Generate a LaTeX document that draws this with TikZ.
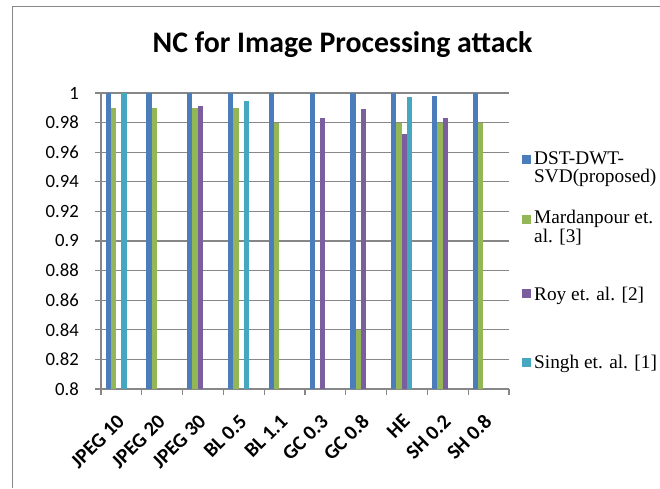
\documentclass[tikz,border=0pt]{standalone}
\usepackage{fontspec}
\setmainfont{Carlito}
\newfontfamily\legendfont{Liberation Serif}
\usepackage{xcolor}
\definecolor{dstblue}{HTML}{4A7DBA}
\definecolor{mardgreen}{HTML}{93B656}
\definecolor{roypurple}{HTML}{7B5E9E}
\definecolor{singhteal}{HTML}{45A7C0}
\definecolor{gridgray}{HTML}{878787}

\begin{document}
\begin{tikzpicture}[x=1pt, y=1pt,
    gridline/.style={gridgray, line width=1.1pt},
    ylab/.style={anchor=east, inner sep=0pt, font=\fontsize{18.7}{20}\selectfont},
    xlab/.style={anchor=east, rotate=45, inner sep=0pt, font=\bfseries\fontsize{20.5}{21}\selectfont},
    legtext/.style={anchor=base west, inner sep=0pt, align=left, font=\legendfont\fontsize{19.3}{17}\selectfont}]
  \useasboundingbox (0,0) rectangle (660,488);
  \draw[gridgray, line width=1.4pt] (12.5,0) -- (12.5,481.5) -- (660,481.5);

  \node[anchor=base, inner sep=0pt, font=\bfseries\fontsize{29.8}{30}\selectfont] (title) at (342.5,435) {NC for Image Processing attack};

  % value axis and grid
  \foreach \lab [count=\k from 0] in {0.8,0.82,0.84,0.86,0.88,0.9,0.92,0.94,0.96,0.98,1} {
    \draw[gridline] (95,{99+29.6*\k}) -- (509,{99+29.6*\k});
    \node[ylab] (y\k) at (79,{99+29.6*\k}) {\lab};
  }
  \draw[gridline] (101,99) -- (101,395);

  % category ticks and labels
  \foreach \k in {0,...,10}
    \draw[gridline] ({101+40.8*\k},99) -- ++(0,-6);
  \foreach \lab [count=\k from 0] in {JPEG 10,JPEG 20,JPEG 30,BL 0.5,BL 1.1,GC 0.3,GC 0.8,HE,SH 0.2,SH 0.8}
    \node[xlab] (x\k) at ({120.9+40.8*\k},70) {\lab};

  % bars, 0.8 means no value
  \foreach \col/\vals [count=\s from 0] in {
      dstblue/{1,1,1,1,1,1,1,1,0.998,1},
      mardgreen/{0.99,0.99,0.99,0.99,0.98,0.8,0.84,0.98,0.98,0.98},
      roypurple/{0.8,0.8,0.991,0.8,0.8,0.983,0.989,0.972,0.983,0.8},
      singhteal/{1,0.8,0.8,0.9945,0.8,0.8,0.8,0.997,0.8,0.8}}
    \foreach \v [count=\i from 0] in \vals
      \fill[\col] ({101+40.8*\i+4.5+5.3*\s},99) rectangle ++(5.3,{(\v-0.8)*1480});

  % legend
  \fill[dstblue] (521.5,324) rectangle ++(9,9);
  \node[legtext] (leg1) at (534,306) {DST-DWT-\\SVD(proposed)};
  \fill[mardgreen] (521.5,264) rectangle ++(9,9);
  \node[legtext] (leg2) at (534,246) {Mardanpour et.\\al. [3]};
  \fill[roypurple] (521.5,190) rectangle ++(9,9);
  \node[legtext] (leg3) at (534,188) {Roy et. al. [2]};
  \fill[singhteal] (521.5,121.5) rectangle ++(9,9);
  \node[legtext] (leg4) at (534,120) {Singh et. al. [1]};
\end{tikzpicture}
\end{document}
